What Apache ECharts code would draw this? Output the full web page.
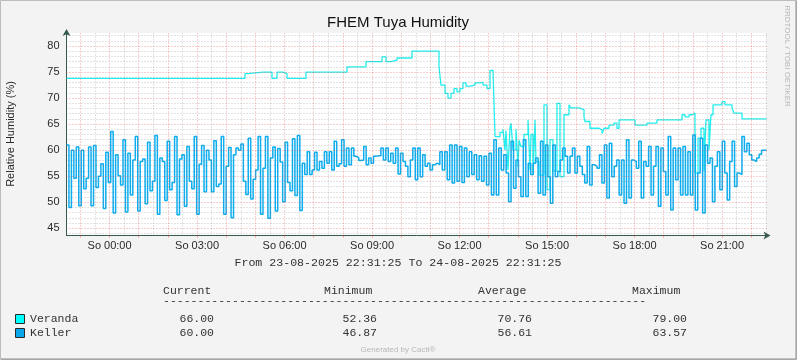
<!DOCTYPE html>
<html><head><meta charset="utf-8">
<script src="https://cdn.jsdelivr.net/npm/echarts@6/dist/echarts.min.js"></script>
<style>html,body{margin:0;padding:0;background:#f3f3f3}#c{width:797px;height:360px}</style>
</head><body><div id="c"></div>
<script>
// ---------- data ----------
const chartTitle = 'FHEM Tuya Humidity';
const yAxisTitle = 'Relative Humidity (%)';
const sideText = 'RRDTOOL / TOBI OETIKER';
const periodText = 'From 23-08-2025 22:31:25 To 24-08-2025 22:31:25';
const footerText = 'Generated by Cacti®';
// time axis in minutes since 23-08-2025 22:31:25 (span 24 h)
const spanMinutes = 1440;
const xTickMinutes = [88.583, 268.583, 448.583, 628.583, 808.583, 988.583, 1168.583, 1348.583];
const xTickLabels = ['So 00:00', 'So 03:00', 'So 06:00', 'So 09:00', 'So 12:00', 'So 15:00', 'So 18:00', 'So 21:00'];
const firstGridMinute = 28.583; // 23:00
const gridStepMinutes = 30;
const yTickValues = [45, 50, 55, 60, 65, 70, 75, 80];
const yMin = 43.6, yMax = 82.5;

const seriesNames = ['Veranda', 'Keller'];
const seriesColors = ['#22F0F0', '#0BAEF0'];
const swatchColors = ['#00FFFF', '#0AA6EC'];
const statHeaders = ['Current', 'Minimum', 'Average', 'Maximum'];
const verandaStats = ['66.00', '52.36', '70.76', '79.00'];
const kellerStats = ['60.00', '46.87', '56.61', '63.57'];

// Keller: regular samples across the 24 h
const kellerValues = [
61.0, 49.0, 60.0, 54.6, 60.6, 49.3, 60.0, 52.6, 54.6, 60.6,
49.3, 60.9, 52.8, 55.0, 57.4, 48.8, 59.6, 53.8, 63.6, 47.9,
59.1, 55.1, 53.3, 62.0, 48.1, 59.4, 51.4, 58.1, 62.6, 48.3,
57.8, 58.3, 49.7, 61.5, 52.2, 54.0, 62.8, 47.7, 58.5, 57.8,
50.3, 61.7, 52.4, 53.8, 62.6, 47.6, 58.3, 59.1, 49.2, 60.7,
54.0, 52.6, 62.6, 47.7, 57.3, 60.9, 52.0, 60.0, 58.1, 52.0,
61.8, 53.0, 53.5, 62.6, 47.7, 56.9, 60.5, 47.0, 59.1, 60.4,
60.0, 61.2, 54.0, 51.5, 62.3, 50.6, 54.4, 56.2, 62.6, 47.7,
56.5, 62.6, 46.9, 58.5, 60.6, 48.3, 60.3, 57.7, 50.1, 61.5,
53.8, 52.2, 62.2, 51.3, 62.8,
48.4, 57.5, 55.3, 59.7, 55.3, 56.2, 59.6, 56.2, 57.8, 56.5,
59.7, 57.5, 59.7, 56.2, 61.7, 56.9, 57.4, 62.0, 56.9, 60.4,
57.2, 60.4, 58.8, 58.5, 58.0, 58.1, 60.7, 57.2, 58.5, 57.5,
58.8, 58.9, 58.9, 60.4, 58.1, 60.4, 57.8, 59.4, 57.5, 60.4,
55.4, 59.4, 57.8, 56.9, 54.9, 58.1, 60.4, 54.3, 60.4, 54.9,
59.1, 56.9, 57.5, 56.2, 57.2, 57.5, 57.2, 59.7, 56.2, 59.7,
54.3, 61.0, 53.7, 61.0, 54.0, 60.7, 53.8, 60.4, 54.9, 59.7,
55.3, 59.1, 54.3, 58.9, 54.0, 58.8, 53.3, 59.4, 51.4, 62.0,
51.4, 60.4, 56.2, 59.1, 55.6, 50.1, 61.7, 52.7, 58.1, 54.9,
51.1, 62.0, 51.1, 57.5, 55.3,
57.5, 58.5, 51.7, 61.7, 51.4, 61.0, 54.9, 49.8, 61.0, 54.9,
55.9, 58.1, 60.4, 58.8, 55.6, 58.8, 60.4, 55.6, 58.8, 56.9,
55.3, 53.7, 60.7, 53.3, 57.2, 56.9, 56.5, 59.1, 53.7, 61.0,
50.8, 61.3, 54.9, 56.9, 58.1, 51.4, 58.1, 49.8, 62.0, 50.8,
58.1, 57.8, 56.5, 61.7, 50.8, 57.8, 56.9, 60.7, 51.4, 56.9,
60.7, 49.2, 60.4, 55.9, 51.4, 62.6, 48.5, 60.4, 54.3, 60.4,
51.4, 60.7, 51.4, 59.7, 51.4, 62.9, 48.5, 55.6, 62.3, 47.9,
61.0, 57.5, 58.5, 50.1, 56.9, 59.7, 52.4, 61.7, 55.6, 50.4,
57.8, 61.7, 53.0, 55.6, 55.3, 62.6, 59.7, 61.3, 59.1, 58.1,
57.8, 58.5, 59.2, 60.0, 60.0
];

// Veranda: change points (minutes since start, value)
const verandaMinutes = [
0, 367.2, 373.4, 404.2, 408.3, 422.7, 433.0, 445.4, 453.6, 492.7,
577.0, 616.1, 649.0, 657.3, 667.5, 679.9, 710.7, 766.3, 770.4, 778.6,
784.8, 791.0, 797.1, 803.3, 809.5, 815.6, 821.8, 830.0, 840.3, 848.6,
856.8, 865.0, 871.2, 877.4, 881.5, 891.8, 897.9, 902.0, 904.1, 908.2,
912.3, 914.4, 918.5, 924.7, 928.8, 930.9, 935.0, 941.1, 949.4, 953.5,
955.5, 959.7, 963.8, 965.8, 972.0, 982.3, 988.5, 994.6, 1000.8, 1009.0,
1015.2, 1023.4, 1033.7, 1037.8, 1054.3, 1064.6, 1066.6, 1076.9, 1095.4, 1101.6,
1105.7, 1116.0, 1126.3, 1132.4, 1136.6, 1169.5, 1194.2, 1214.7, 1266.2, 1272.3,
1280.6, 1286.7, 1292.9, 1299.1, 1305.3, 1311.4, 1315.5, 1321.7, 1325.8, 1330.0,
1348.5, 1354.6, 1369.0, 1373.1, 1389.6, 1440
];
const verandaValues = [
73.8, 74.7, 75.0, 74.7, 75.0, 73.8, 75.0, 74.7, 73.8, 75.0,
76.0, 77.0, 77.9, 77.0, 77.3, 77.7, 79.0, 76.0, 72.5, 70.9,
70.0, 70.9, 71.8, 71.2, 71.8, 72.9, 72.3, 72.5, 72.9, 73.0,
72.5, 71.8, 75.3, 75.6, 62.6, 63.4, 64.0, 60.0, 63.7, 56.2,
64.3, 65.2, 60.0, 64.0, 56.8, 61.9, 60.7, 63.0, 65.8, 56.2,
63.0, 55.2, 65.8, 57.8, 55.2, 68.7, 52.4, 62.0, 56.0, 69.0,
54.9, 66.8, 68.7, 68.1, 67.8, 66.4, 65.5, 64.2, 63.9, 63.2,
64.2, 64.8, 65.2, 64.2, 65.8, 64.8, 65.2, 65.8, 66.8, 66.4,
66.8, 67.1, 55.6, 62.3, 64.2, 56.0, 65.8, 60.0, 66.8, 68.7,
69.3, 68.7, 68.1, 67.1, 66.0, 66.0
];

// ---------- build ----------
const kellerData = kellerValues.map((v, i) => [i * spanMinutes / kellerValues.length, v]);
kellerData.push([spanMinutes, kellerValues[kellerValues.length - 1]]);
const verandaData = verandaMinutes.map((m, i) => [m, verandaValues[i]]);

const MAJOR = 'rgba(225,80,80,0.55)';
const MINOR = 'rgba(120,120,120,0.42)';
const minorLines = [], majorLines = [];
for (let k = 0; firstGridMinute + gridStepMinutes * k < spanMinutes; k++) {
  const m = firstGridMinute + gridStepMinutes * k;
  (k % 2 === 0 ? majorLines : minorLines).push({ xAxis: m });
}
for (let v = Math.ceil(yMin); v <= yMax; v++) {
  (v % 5 === 0 ? majorLines : minorLines).push({ yAxis: v });
}
const hourTicks = majorLines.filter(d => d.xAxis !== undefined).map(d => d.xAxis);

const AXIS = '#35594e';
const SANS = '"Liberation Sans", Arial, sans-serif';
const MONO = '"Liberation Mono", "Courier New", monospace';
const TXT = '#2a2a2a';
const MONO_FONT = '11.5px ' + MONO;

const graphics = [
  { type: 'rect', shape: { x: 0.5, y: 0.5, width: 796, height: 359 }, style: { fill: 'none', stroke: '#bdbdbd', lineWidth: 1 }, silent: true },
  { type: 'polyline', shape: { points: [[796, 1], [796, 359], [1, 359]] }, style: { fill: 'none', stroke: '#8f8f8f', lineWidth: 1 }, silent: true },
  { type: 'text', x: 398, y: 22.5, style: { text: chartTitle, font: '15px ' + SANS, fill: '#111', align: 'center', verticalAlign: 'middle' } },
  { type: 'text', x: 10.5, y: 134, rotation: Math.PI / 2, style: { text: yAxisTitle, font: '11px ' + SANS, fill: TXT, align: 'center', verticalAlign: 'middle' } },
  { type: 'text', x: 787.5, y: 56, rotation: -Math.PI / 2, style: { text: sideText, font: '8px ' + SANS, fill: '#b8b8b8', align: 'center', verticalAlign: 'middle' } },
  { type: 'text', x: 398, y: 263, style: { text: periodText, font: '11.6px ' + MONO, fill: '#333', align: 'center', verticalAlign: 'middle' } },
  { type: 'text', x: 398, y: 350, style: { text: footerText, font: '8px ' + SANS, fill: '#b8b8b8', align: 'center', verticalAlign: 'middle' } },
  { type: 'text', x: 163, y: 300.5, style: { text: '-'.repeat(70), font: MONO_FONT, fill: '#333', align: 'left', verticalAlign: 'middle' } }
];
const headerX = [163, 324, 478, 632];
statHeaders.forEach((h, i) => graphics.push({ type: 'text', x: headerX[i], y: 291, style: { text: h, font: MONO_FONT, fill: '#333', align: 'left', verticalAlign: 'middle' } }));
const valueRight = [214, 377, 532, 687];
const rowY = [319, 333];
[verandaStats, kellerStats].forEach((row, r) => {
  graphics.push({ type: 'rect', shape: { x: 15.5, y: rowY[r] - 4.5, width: 9, height: 9 }, style: { fill: swatchColors[r], stroke: '#2a2a2a', lineWidth: 1 } });
  graphics.push({ type: 'text', x: 30, y: rowY[r], style: { text: seriesNames[r], font: MONO_FONT, fill: '#333', align: 'left', verticalAlign: 'middle' } });
  row.forEach((v, i) => graphics.push({ type: 'text', x: valueRight[i], y: rowY[r], style: { text: v, font: MONO_FONT, fill: '#333', align: 'right', verticalAlign: 'middle' } }));
});

const chart = echarts.init(document.getElementById('c'), null, { renderer: 'canvas', width: 797, height: 360 });
chart.setOption({
  animation: false,
  backgroundColor: '#f3f3f3',
  grid: { left: 66.5, right: 30.5, top: 33, bottom: 124.5, show: true, backgroundColor: '#ffffff', borderWidth: 0, containLabel: false, outerBoundsMode: 'none' },
  xAxis: {
    type: 'value', min: 0, max: spanMinutes,
    splitLine: { show: false },
    axisLine: { show: true, onZero: false, symbol: ['none', 'arrow'], symbolSize: [6, 7], symbolOffset: [0, 4], lineStyle: { color: AXIS, width: 1 } },
    axisTick: { show: true, customValues: hourTicks, length: 2, lineStyle: { color: MAJOR } },
    axisLabel: {
      customValues: xTickMinutes, margin: 5, color: TXT, fontFamily: SANS, fontSize: 11,
      formatter: (v) => { let best = 0; xTickMinutes.forEach((m, i) => { if (Math.abs(m - v) < Math.abs(xTickMinutes[best] - v)) best = i; }); return xTickLabels[best]; }
    }
  },
  yAxis: {
    type: 'value', min: yMin, max: yMax,
    splitLine: { show: false },
    axisLine: { show: true, onZero: false, symbol: ['none', 'arrow'], symbolSize: [6, 7], symbolOffset: [0, 4], lineStyle: { color: AXIS, width: 1 } },
    axisTick: { show: false },
    axisLabel: { customValues: yTickValues, margin: 7, color: TXT, fontFamily: SANS, fontSize: 11 }
  },
  series: [
    { type: 'line', name: 'grid-minor', data: [], silent: true, z: 1,
      markLine: { silent: true, symbol: ['none', 'none'], label: { show: false }, animation: false,
        lineStyle: { color: MINOR, type: [1, 2], width: 1 }, emphasis: { disabled: true }, data: minorLines } },
    { type: 'line', name: 'grid-major', data: [], silent: true, z: 1,
      markLine: { silent: true, symbol: ['none', 'none'], label: { show: false }, animation: false,
        lineStyle: { color: MAJOR, type: [1, 2], width: 1 }, emphasis: { disabled: true }, data: majorLines } },
    { type: 'line', name: seriesNames[0], data: verandaData, step: 'end', showSymbol: false, z: 3,
      lineStyle: { color: seriesColors[0], width: 1.3 }, itemStyle: { color: seriesColors[0] } },
    { type: 'line', name: seriesNames[1], data: kellerData, step: 'end', showSymbol: false, z: 4,
      lineStyle: { color: seriesColors[1], width: 1.5 }, itemStyle: { color: seriesColors[1] } }
  ],
  graphic: graphics
});
</script></body></html>
